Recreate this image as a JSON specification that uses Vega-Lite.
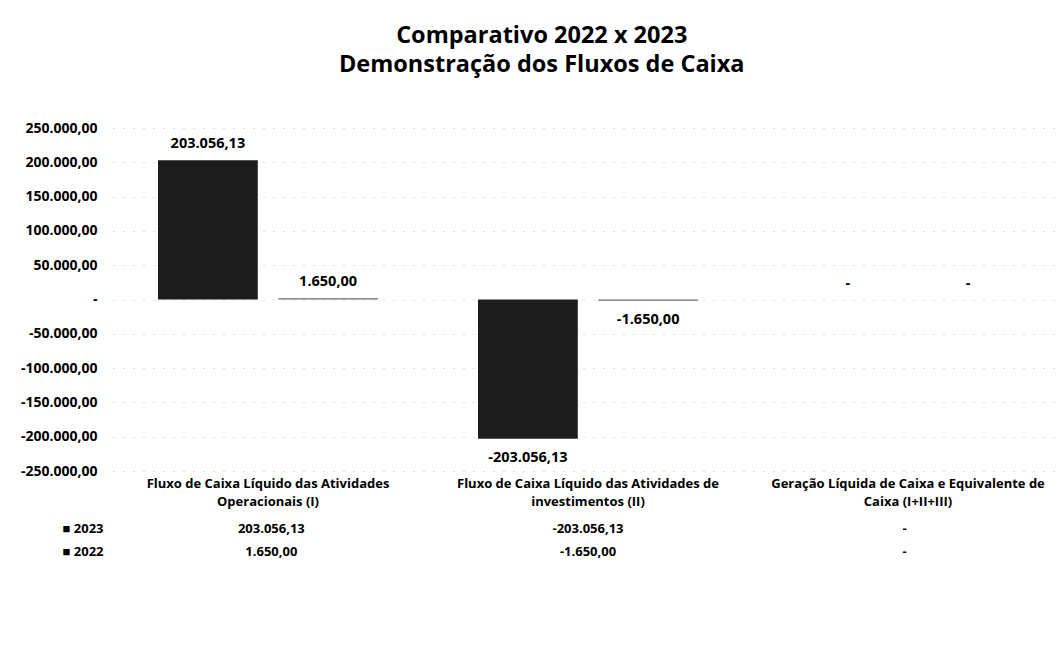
{
  "$schema": "https://vega.github.io/schema/vega-lite/v6.json",
  "background": "white",
  "padding": {"left": 20, "top": 23, "right": 0, "bottom": 0},
  "title": {
    "text": ["Comparativo 2022 x 2023", "Demonstração dos Fluxos de Caixa"],
    "font": "Open Sans",
    "fontSize": 23.5,
    "fontWeight": "bold",
    "lineHeight": 29,
    "color": "black",
    "anchor": "middle",
    "offset": 45
  },
  "config": {
    "font": "Open Sans",
    "view": {"stroke": null},
    "locale": {"number": {"decimal": ",", "thousands": ".", "grouping": [3], "currency": ["R$ ", ""], "minus": "-"}}
  },
  "data": {
    "values": [
      {"categoria": "Fluxo de Caixa Líquido das Atividades\nOperacionais (I)", "ano": "2023", "valor": 203056.13},
      {"categoria": "Fluxo de Caixa Líquido das Atividades\nOperacionais (I)", "ano": "2022", "valor": 1650.00},
      {"categoria": "Fluxo de Caixa Líquido das Atividades de\ninvestimentos (II)", "ano": "2023", "valor": -203056.13},
      {"categoria": "Fluxo de Caixa Líquido das Atividades de\ninvestimentos (II)", "ano": "2022", "valor": -1650.00},
      {"categoria": "Geração Líquida de Caixa e Equivalente de\nCaixa (I+II+III)", "ano": "2023", "valor": 0},
      {"categoria": "Geração Líquida de Caixa e Equivalente de\nCaixa (I+II+III)", "ano": "2022", "valor": 0}
    ]
  },
  "spacing": 9,
  "vconcat": [
    {
      "width": 950,
      "height": 343,
      "transform": [
        {"calculate": "datum.valor == 0 ? '-' : format(datum.valor, ',.2f')", "as": "rotulo"}
      ],
      "encoding": {
        "x": {
          "field": "categoria", "type": "nominal", "sort": null,
          "scale": {"paddingInner": 0.3125, "paddingOuter": 0.1406},
          "axis": {
            "title": null, "domain": false, "ticks": false, "labelAngle": 0,
            "labelExpr": "split(datum.label, '\\n')",
            "labelFont": "Open Sans", "labelFontWeight": "bold", "labelFontSize": 13,
            "labelColor": "black", "labelLineHeight": 18, "labelPadding": 6, "labelLimit": 330
          }
        },
        "xOffset": {"field": "ano", "type": "nominal", "sort": ["2023", "2022"], "scale": {"paddingInner": 0.17, "paddingOuter": 0}},
        "y": {
          "field": "valor", "type": "quantitative",
          "scale": {"domain": [-250000, 250000], "nice": false, "zero": true},
          "axis": {
            "title": null, "domain": false, "ticks": false,
            "values": [-250000, -200000, -150000, -100000, -50000, 0, 50000, 100000, 150000, 200000, 250000],
            "format": ",.2f",
            "labelExpr": "datum.value == 0 ? '-' : datum.label",
            "labelFont": "Open Sans", "labelFontWeight": "bold", "labelFontSize": 14, "labelColor": "black",
            "labelPadding": 16,
            "grid": true, "gridColor": "#9a9a9a", "gridDash": [1, 9], "gridWidth": 1, "gridOpacity": 0.7
          }
        }
      },
      "layer": [
        {
          "mark": {"type": "bar"},
          "encoding": {
            "color": {"field": "ano", "type": "nominal", "scale": {"domain": ["2023", "2022"], "range": ["#1c1c1c", "#6b6b6b"]}, "legend": null}
          }
        },
        {
          "transform": [{"filter": "datum.valor >= 0"}],
          "mark": {"type": "text", "dy": -16, "fontWeight": "bold", "fontSize": 14.5, "color": "black", "font": "Open Sans"},
          "encoding": {"text": {"field": "rotulo"}}
        },
        {
          "transform": [{"filter": "datum.valor < 0"}],
          "mark": {"type": "text", "dy": 19, "fontWeight": "bold", "fontSize": 14.5, "color": "black", "font": "Open Sans"},
          "encoding": {"text": {"field": "rotulo"}}
        }
      ]
    },
    {
      "width": 950,
      "height": 46,
      "transform": [
        {"calculate": "datum.valor == 0 ? '-' : format(datum.valor, ',.2f')", "as": "rotulo"}
      ],
      "mark": {"type": "text", "fontWeight": "bold", "fontSize": 13, "color": "black", "font": "Open Sans"},
      "encoding": {
        "x": {
          "field": "categoria", "type": "nominal", "sort": null,
          "scale": {"paddingInner": 0.3125, "paddingOuter": 0.1406},
          "axis": null
        },
        "y": {
          "field": "ano", "type": "nominal", "sort": ["2023", "2022"],
          "scale": {"paddingInner": 0, "paddingOuter": 0},
          "axis": {
            "title": null, "domain": false, "ticks": false,
            "labelExpr": "'■ ' + datum.label",
            "labelFont": "Open Sans", "labelFontWeight": "bold", "labelFontSize": 13, "labelColor": "black",
            "labelPadding": 10
          }
        },
        "text": {"field": "rotulo"}
      }
    }
  ]
}
